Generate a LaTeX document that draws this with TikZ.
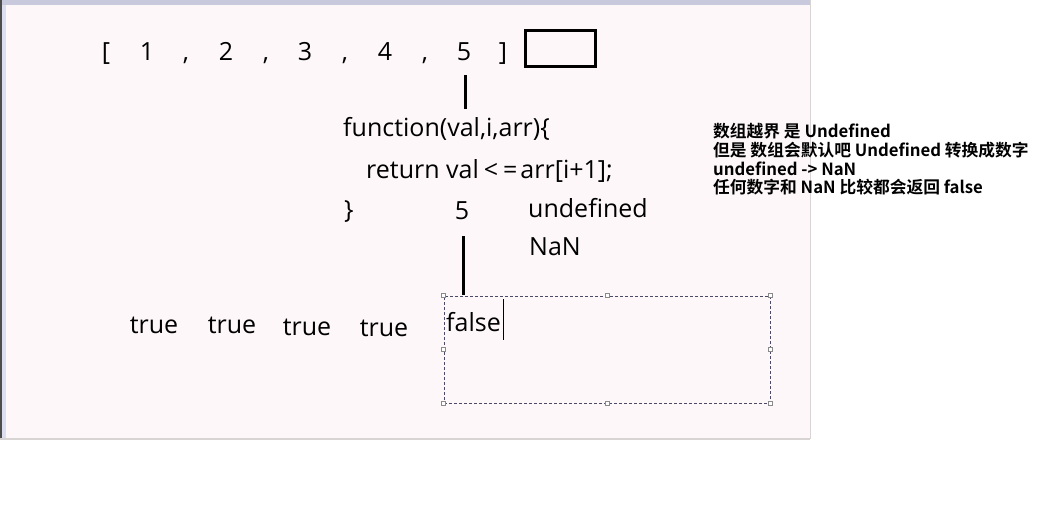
\documentclass[tikz,border=0pt]{standalone}
\usepackage{fontspec}
\setmainfont{Open Sans}
\newfontfamily\cjk{Noto Sans CJK SC}[BoldFont={Noto Sans CJK SC Bold}]
\definecolor{bgpink}{HTML}{FDF7F9}
\definecolor{barlav}{HTML}{C9C9DD}
\definecolor{sidelav}{HTML}{DDDDF0}
\definecolor{edgegray}{HTML}{D8D4D4}
\definecolor{dashcol}{HTML}{4A4A66}
\definecolor{handlecol}{HTML}{8A8A8A}
\tikzset{
  big/.style={font=\fontsize{25}{28}\selectfont, inner sep=0pt, anchor=base west},
  bigc/.style={font=\fontsize{25}{28}\selectfont, inner sep=0pt, anchor=base},
  note/.style={font=\cjk\bfseries\fontsize{16.75}{18}\selectfont, inner sep=0pt, anchor=base west},
  bar/.style={line width=3pt},
  handle/.style={draw=handlecol, fill=white, line width=0.6pt, minimum size=4pt, inner sep=0pt},
}
\begin{document}
\begin{tikzpicture}[x=1pt,y=-1pt]
\useasboundingbox (0,0) rectangle (1043,511);
\fill[white] (0,0) rectangle (1043,511);
% canvas
\fill[bgpink] (0,0) rectangle (810,439);
\fill[barlav] (0,0) rectangle (810,5);
\fill[sidelav] (0,5) rectangle (6,439);
\fill[black!70] (0,0) rectangle (2,439);
\draw[edgegray, line width=1.5pt] (0,439) -- (810,439);
\draw[edgegray, line width=1pt] (810,0) -- (810,439);

% array
\node[bigc] (lb) at (106,60) {[};
\node[bigc] (n1) at (147,60) {1};
\node[bigc] (c1) at (186,60) {,};
\node[bigc] (n2) at (226,60) {2};
\node[bigc] (c2) at (266,60) {,};
\node[bigc] (n3) at (305,60) {3};
\node[bigc] (c3) at (345,60) {,};
\node[bigc] (n4) at (385,60) {4};
\node[bigc] (c4) at (425,60) {,};
\node[bigc] (n5) at (464,60) {5};
\node[bigc] (rb) at (503,60) {]};
\node[draw, line width=3pt, minimum width=70pt, minimum height=35pt, inner sep=0pt] (slot) at (560,48.5) {};

\coordinate (l1a) at (465,75);
\coordinate (l1b) at (465,109);
\draw[bar] (l1a) -- (l1b);

% function
\node[big] (fn) at (343,136) {function(val,i,arr)\{};
\node[big] (ret) at (366,178) {return val\hspace{5pt}<\hspace{5pt}=\hspace{3pt}arr[i+1];};
\node[big] (close) at (344,218) {\}};
\node[bigc] (five) at (462,219) {5};
\node[big] (undef) at (528,217) {undefined};
\node[big] (nan) at (529,255) {NaN};

\coordinate (l2a) at (463,236);
\coordinate (l2b) at (463,295);
\draw[bar] (l2a) -- (l2b);

% trues
\node[bigc] (t1) at (154,333) {true};
\node[bigc] (t2) at (232,333) {true};
\node[bigc] (t3) at (307,335) {true};
\node[bigc] (t4) at (384,336) {true};

% selection box
\node[draw=dashcol, dash pattern=on 3pt off 2pt, line width=0.8pt, minimum width=326pt, minimum height=107pt, inner sep=0pt] (sel) at (607,349.5) {};
\foreach \a in {north west,north,north east,east,south east,south,south west,west}
  \node[handle] at (sel.\a) {};
\node[big] (false) at (446,331) {false};
\coordinate (cura) at (503,299);
\coordinate (curb) at (503,340);
\draw[line width=0.8pt] (cura) -- (curb);

% note
\node[note] (note1) at (713,137) {数组越界 是 Undefined};
\node[note] (note2) at (713,156) {但是 数组会默认吧 Undefined 转换成数字};
\node[note] (note3) at (713,175) {undefined -> NaN};
\node[note] (note4) at (713,193) {任何数字和 NaN 比较都会返回 false};
\end{tikzpicture}
\end{document}
